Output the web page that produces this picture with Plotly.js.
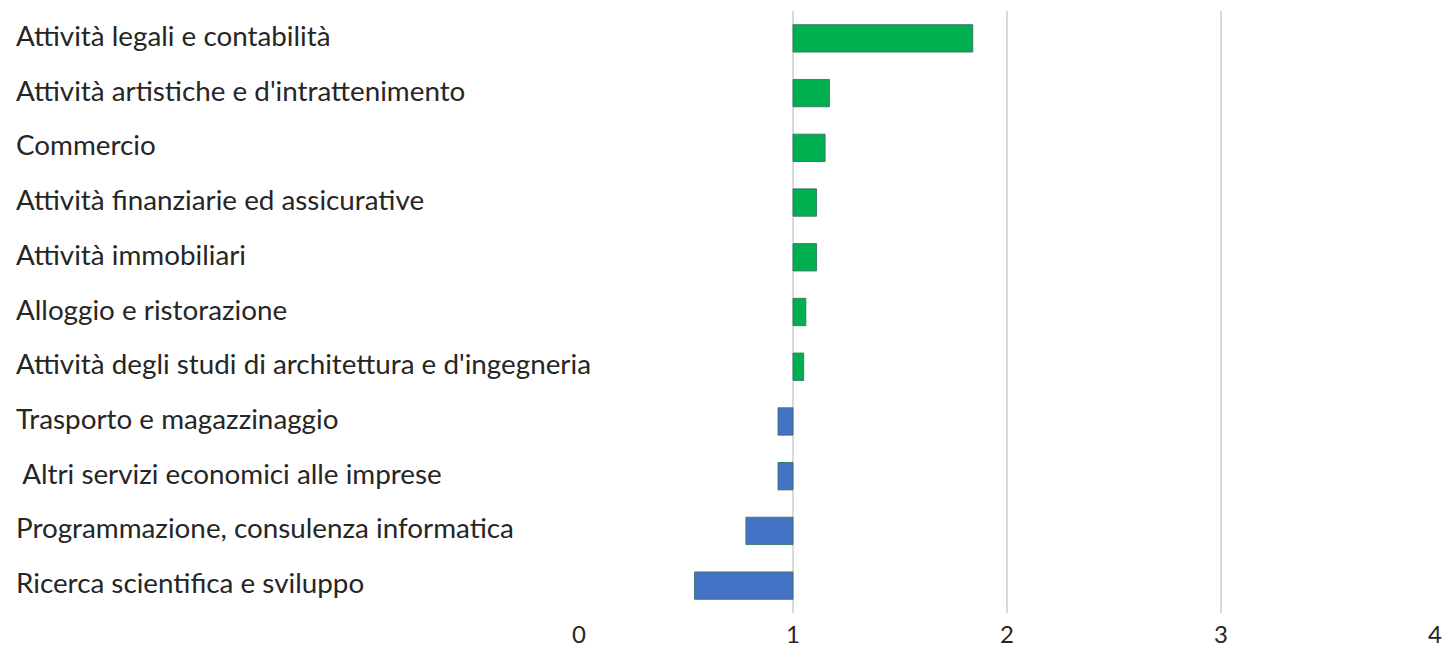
<!DOCTYPE html>
<html>
<head>
<meta charset="utf-8">
<script src="https://cdn.plot.ly/plotly-3.0.1.min.js"></script>
<style>html,body{margin:0;padding:0;background:#fff;}#chart{width:1452px;height:651px;}</style>
</head>
<body>
<div id="chart"></div>
<script>
const categories = [
  "Attività legali e contabilità",
  "Attività artistiche e d'intrattenimento",
  "Commercio",
  "Attività finanziarie ed assicurative",
  "Attività immobiliari",
  "Alloggio e ristorazione",
  "Attività degli studi di architettura e d'ingegneria",
  "Trasporto e magazzinaggio",
  " Altri servizi economici alle imprese",
  "Programmazione, consulenza informatica",
  "Ricerca scientifica e sviluppo"
];
const values = [1.84, 1.17, 1.15, 1.11, 1.11, 1.06, 1.05, 0.93, 0.93, 0.78, 0.54];
const baseline = 1;
const xTicks = [0, 1, 2, 3, 4];

const colors = values.map(v => v >= baseline ? '#00B050' : '#4472C4');

const trace = {
  type: 'bar',
  orientation: 'h',
  y: categories,
  x: values.map(v => v - baseline),
  base: baseline,
  width: 0.5,
  marker: {color: colors, line: {color: 'rgba(50,110,100,0.85)', width: 1}},
  hoverinfo: 'skip'
};

const W = 1452, mL = 579, mR = 17;
const plotW = W - mL - mR;
const labelX = (14 - mL) / plotW;

const annotations = categories.map(c => ({
  xref: 'paper', yref: 'y', x: labelX, y: c, yshift: 3,
  text: c.replace(/^ /, '\u00a0'), showarrow: false, xanchor: 'left', yanchor: 'middle',
  font: {family: 'Lato, sans-serif', size: 27.8, color: '#262626'}
}));

const layout = {
  width: 1452, height: 651,
  margin: {l: mL, r: mR, t: 11, b: 38},
  paper_bgcolor: '#fff', plot_bgcolor: '#fff',
  showlegend: false,
  bargap: 0.5,
  xaxis: {
    range: [0, 4], tickvals: xTicks, ticktext: xTicks.map(String),
    showgrid: true, gridcolor: '#d9d9d9', gridwidth: 1.5,
    zeroline: false, showline: false, ticks: '', ticklabelstandoff: 5,
    tickfont: {family: 'Lato, sans-serif', size: 24, color: '#262626'}
  },
  yaxis: {
    type: 'category', autorange: 'reversed', showticklabels: false,
    showgrid: false, zeroline: false, showline: false, ticks: ''
  },
  annotations: annotations
};

Plotly.newPlot('chart', [trace], layout, {displayModeBar: false, staticPlot: true});
</script>
</body>
</html>
